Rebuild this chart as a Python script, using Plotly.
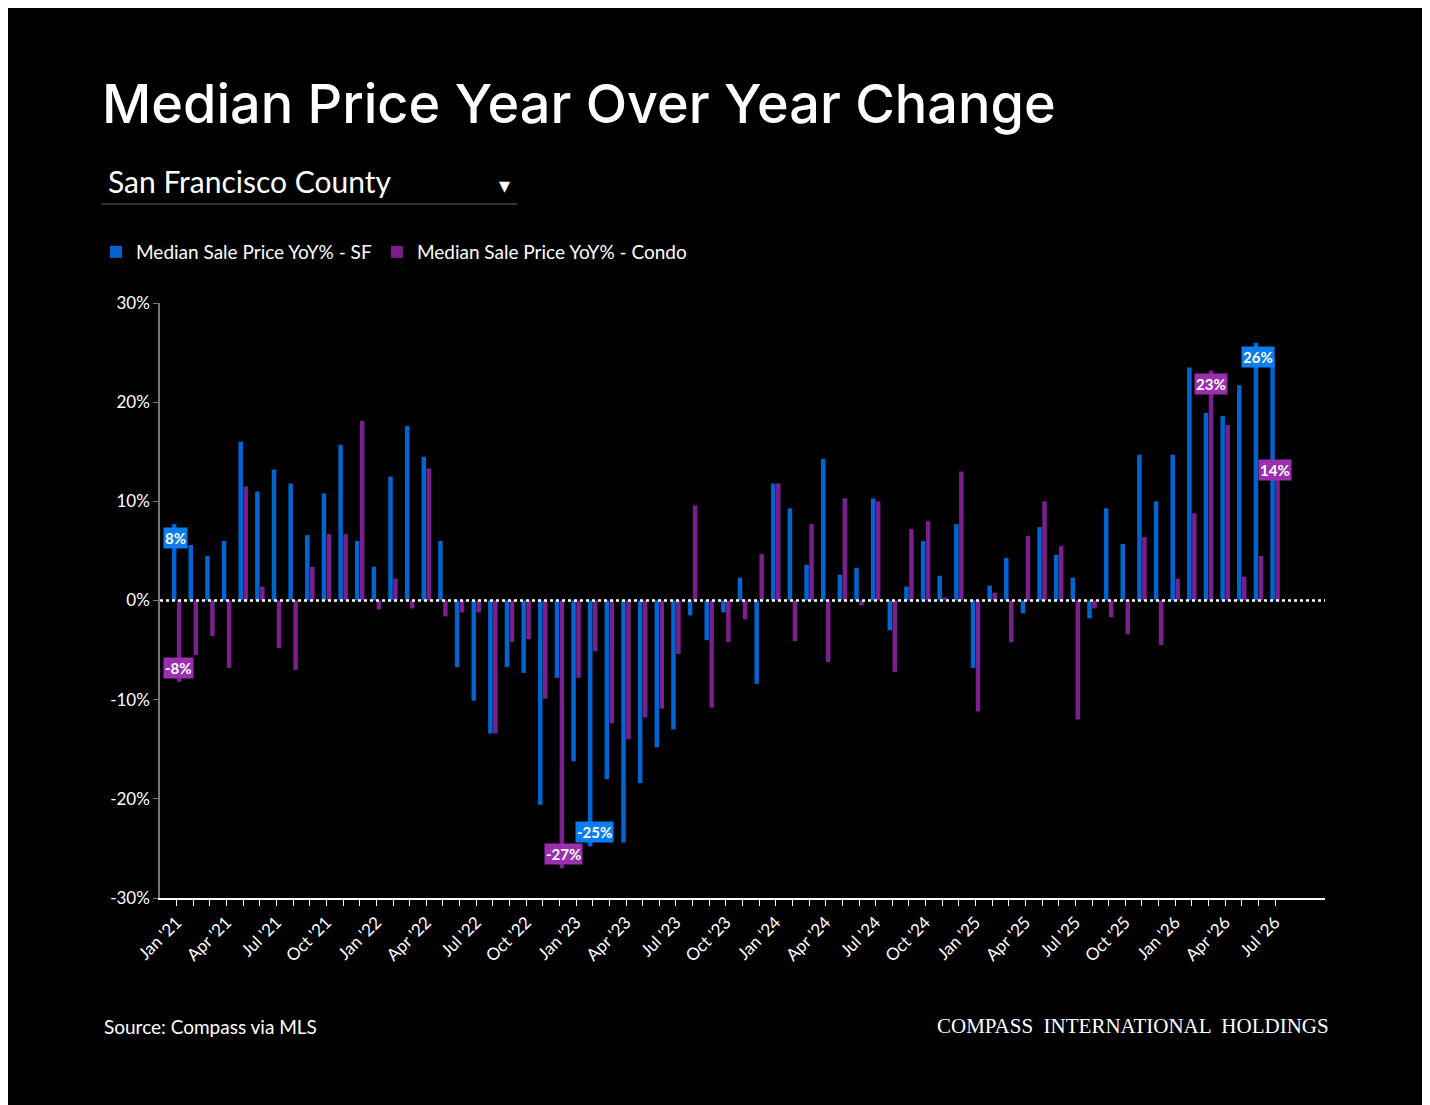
import plotly.graph_objects as go

months = ["Jan '21","Feb '21","Mar '21","Apr '21","May '21","Jun '21","Jul '21","Aug '21","Sep '21","Oct '21","Nov '21","Dec '21",
          "Jan '22","Feb '22","Mar '22","Apr '22","May '22","Jun '22","Jul '22","Aug '22","Sep '22","Oct '22","Nov '22","Dec '22",
          "Jan '23","Feb '23","Mar '23","Apr '23","May '23","Jun '23","Jul '23","Aug '23","Sep '23","Oct '23","Nov '23","Dec '23",
          "Jan '24","Feb '24","Mar '24","Apr '24","May '24","Jun '24","Jul '24","Aug '24","Sep '24","Oct '24","Nov '24","Dec '24",
          "Jan '25","Feb '25","Mar '25","Apr '25","May '25","Jun '25","Jul '25","Aug '25","Sep '25","Oct '25","Nov '25","Dec '25",
          "Jan '26","Feb '26","Mar '26","Apr '26","May '26","Jun '26","Jul '26"]
sf = [7.7,5.6,4.5,6.0,16.0,11.0,13.2,11.8,6.6,10.8,15.7,6.0,
      3.4,12.5,17.6,14.5,6.0,-6.7,-10.1,-13.4,-6.7,-7.3,-20.6,-7.8,
      -16.2,-24.8,-18.0,-24.4,-18.4,-14.8,-13.0,-1.5,-4.0,-1.2,2.3,-8.4,
      11.8,9.3,3.6,14.3,2.6,3.3,10.3,-3.0,1.4,6.0,2.5,7.7,
      -6.8,1.5,4.3,-1.3,7.4,4.6,2.3,-1.8,9.3,5.7,14.7,10.0,
      14.7,23.5,18.9,18.6,21.7,26.0,24.6]
condo = [-8.2,-5.5,-3.6,-6.8,11.5,1.4,-4.8,-7.0,3.4,6.7,6.7,18.1,
         -0.9,2.2,-0.8,13.3,-1.6,-1.2,-1.2,-13.4,-4.2,-3.9,-9.9,-27.0,
         -7.8,-5.1,-12.4,-14.0,-11.8,-10.9,-5.4,9.6,-10.8,-4.2,-1.9,4.7,
         11.8,-4.1,7.7,-6.2,10.3,-0.5,10.0,-7.2,7.2,8.0,0.3,13.0,
         -11.2,0.8,-4.2,6.5,10.0,5.5,-12.0,-0.8,-1.7,-3.4,6.4,-4.5,
         2.2,8.8,23.2,17.7,2.4,4.5,14.0]
ytickvals = [-30, -20, -10, 0, 10, 20, 30]
yticktext = ["-30%", "-20%", "-10%", "0%", "10%", "20%", "30%"]

BLUE = "#0064d2"
PURP = "#7b1f8e"
FONT = "Lato, Inter, sans-serif"

W, H = 1422, 1097
OX, OY = 8, 8  # page body offset
PL, PR, PT, PB = 160 - OX, 1325 - OX, 303 - OY, 898 - OY
PW, PH = PR - PL, PB - PT

def px(x):  # reference pixel x -> paper
    return (x - 160) / PW
def py(y):
    return (898 - y) / PH

fig = go.Figure()
fig.add_bar(x=months, y=sf, name="Median Sale Price YoY% - SF", marker_color=BLUE, marker_line_width=0)
fig.add_bar(x=months, y=condo, name="Median Sale Price YoY% - Condo", marker_color=PURP, marker_line_width=0)

def lab(series, idx, color, xs, ys):
    v = series[idx]
    fig.add_annotation(x=months[idx], y=v, text=f"<b>{round(v):d}%</b>", showarrow=False,
                       xshift=xs, yshift=ys, bgcolor=color, borderpad=1,
                       font=dict(color="white", size=15, family=FONT))

lab(sf, 0, "#0a7ef0", -1, -14)
lab(condo, 0, "#9b2fb0", 2, 14)
lab(sf, sf.index(min(sf)), "#0a7ef0", 2, 14)
lab(condo, condo.index(min(condo)), "#9b2fb0", 4, 14)
lab(sf, sf.index(max(sf)), "#0a7ef0", 0, -14)
lab(condo, condo.index(max(condo)), "#9b2fb0", 2, -14)
lab(condo, len(condo) - 1, "#9b2fb0", 0, -8)

ticktext = [m if i % 3 == 0 else "" for i, m in enumerate(months)]
fig.update_layout(
    width=W, height=H, paper_bgcolor="black", plot_bgcolor="black",
    margin=dict(l=PL, r=W - PR, t=PT, b=H - PB, pad=0),
    barmode="group", bargap=0.4, bargroupgap=0.1,
    font=dict(family=FONT, color="white", size=16),
    title=dict(text="Median Price Year Over Year Change", x=(102 - OX) / W, xanchor="left",
               xref="container", yref="container", y=1 - (104 - OY) / H, yanchor="middle",
               font=dict(size=54, color="white", family="Inter, Lato, sans-serif", weight=500)),
    legend=dict(orientation="h", x=px(96), xanchor="left", y=py(252), yanchor="middle",
                font=dict(size=19, color="white"), itemwidth=30, traceorder="normal"),
    xaxis=dict(tickvals=months, ticktext=ticktext, tickangle=-45, ticks="outside", ticklen=6,
               tickcolor="white", showline=True, linecolor="white", linewidth=1.5,
               showgrid=False, tickfont=dict(size=17, color="white"), range=[-1, 69]),
    yaxis=dict(range=[-30, 30], tickvals=ytickvals, ticktext=yticktext, showgrid=False, zeroline=False,
               showline=True, linecolor="#777", linewidth=1.5, ticks="outside", ticklen=5,
               tickcolor="#777", tickfont=dict(size=17, color="white")),
    shapes=[
        dict(type="line", xref="paper", yref="y", x0=0, x1=1, y0=0, y1=0,
             line=dict(color="white", width=2.5, dash="dot")),
        dict(type="line", xref="paper", yref="paper", x0=px(102), x1=px(517),
             y0=py(204), y1=py(204), line=dict(color="#666", width=1)),
    ],
)
fig.add_annotation(xref="paper", yref="paper", x=px(106), y=py(181),
                   text="San Francisco County", showarrow=False, xanchor="left", yanchor="middle",
                   font=dict(size=30, color="white", family=FONT))
fig.add_annotation(xref="paper", yref="paper", x=px(504), y=py(184),
                   text="▾", showarrow=False, xanchor="center", yanchor="middle",
                   font=dict(size=22, color="white"))
fig.add_annotation(xref="paper", yref="paper", x=px(102), y=py(1026),
                   text="Source: Compass via MLS", showarrow=False, xanchor="left", yanchor="middle",
                   font=dict(size=19, color="white", family=FONT))
fig.add_annotation(xref="paper", yref="paper", x=px(1331), y=py(1026),
                   text="COMPASS  INTERNATIONAL  HOLDINGS", showarrow=False,
                   xanchor="right", yanchor="middle",
                   font=dict(size=21, color="white", family="Liberation Serif, serif"))
fig.write_html("out.html")
